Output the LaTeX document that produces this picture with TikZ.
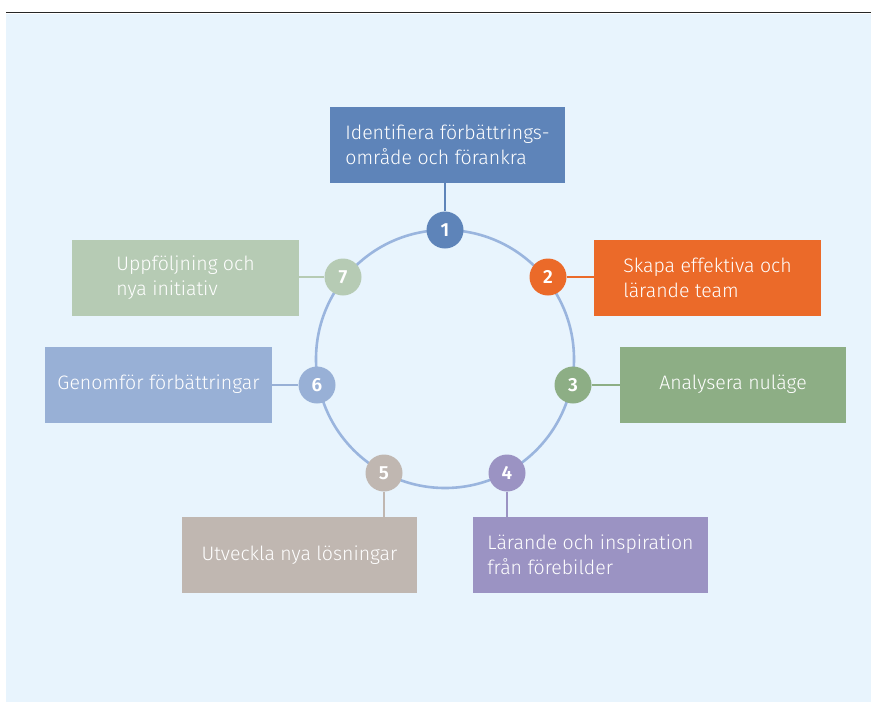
\documentclass[tikz,border=0pt]{standalone}
\usepackage{fontspec}
\setmainfont{Fira Sans}[UprightFont={* Light},BoldFont={* SemiBold}]
\definecolor{bgc}{HTML}{E8F4FD}
\definecolor{ringc}{HTML}{9AB5DE}
\definecolor{c1}{HTML}{5E84B9}
\definecolor{c2}{HTML}{EB6A29}
\definecolor{c3}{HTML}{8DAE85}
\definecolor{c4}{HTML}{9B93C3}
\definecolor{c5}{HTML}{C0B7B1}
\definecolor{c6}{HTML}{98B0D6}
\definecolor{c7}{HTML}{B6CBB4}
\tikzset{
  box/.style={fill=#1, draw=none, minimum height=76pt, text=white, align=left, font=\fontsize{19.5}{25}\selectfont, inner sep=0pt},
  num/.style={circle, fill=#1, draw=none, minimum size=37pt, inner sep=0pt, text=white, font=\fontsize{19}{19}\selectfont\bfseries},
  conn/.style={draw=#1, line width=2.5pt}
}
\begin{document}
\begin{tikzpicture}[x=1pt,y=-1pt]
\useasboundingbox (0,0) rectangle (871,702);
\fill[bgc] (6,14) rectangle (871,702);
\draw[line width=1.5pt, black!85] (6,12.5) -- (871,12.5);
\draw[ringc, line width=2.6pt] (445,359) circle (129);
% boxes
\node[box=c1, minimum width=235pt] (b1) at (447.5,145) {Identifiera förbättrings-\\område och förankra};
\node[box=c2, minimum width=227pt] (b2) at (707.5,277.5) {Skapa effektiva och\\lärande team};
\node[box=c3, minimum width=226pt] (b3) at (733,384.5) {Analysera nuläge};
\node[box=c4, minimum width=235pt] (b4) at (590.5,555) {Lärande och inspiration\\från förebilder};
\node[box=c5, minimum width=235pt] (b5) at (299.5,555) {Utveckla nya lösningar};
\node[box=c6, minimum width=227pt] (b6) at (158.5,384.5) {Genomför förbättringar};
\node[box=c7, minimum width=227pt] (b7) at (185.5,277.5) {Uppföljning och\\nya initiativ};
% number circles
\node[num=c1] (n1) at (445,230) {1};
\node[num=c2] (n2) at (548,277) {2};
\node[num=c3] (n3) at (573,385) {3};
\node[num=c4] (n4) at (507,473) {4};
\node[num=c5] (n5) at (384,473) {5};
\node[num=c6] (n6) at (317,385) {6};
\node[num=c7] (n7) at (343,277) {7};
% connectors
\draw[conn=c1] (n1) -- (n1 |- b1.south);
\draw[conn=c2] (n2) -- (b2.west |- n2);
\draw[conn=c3] (n3) -- (b3.west |- n3);
\draw[conn=c4] (n4) -- (n4 |- b4.north);
\draw[conn=c5] (n5) -- (n5 |- b5.north);
\draw[conn=c6] (n6) -- (b6.east |- n6);
\draw[conn=c7] (n7) -- (b7.east |- n7);
\end{tikzpicture}
\end{document}
